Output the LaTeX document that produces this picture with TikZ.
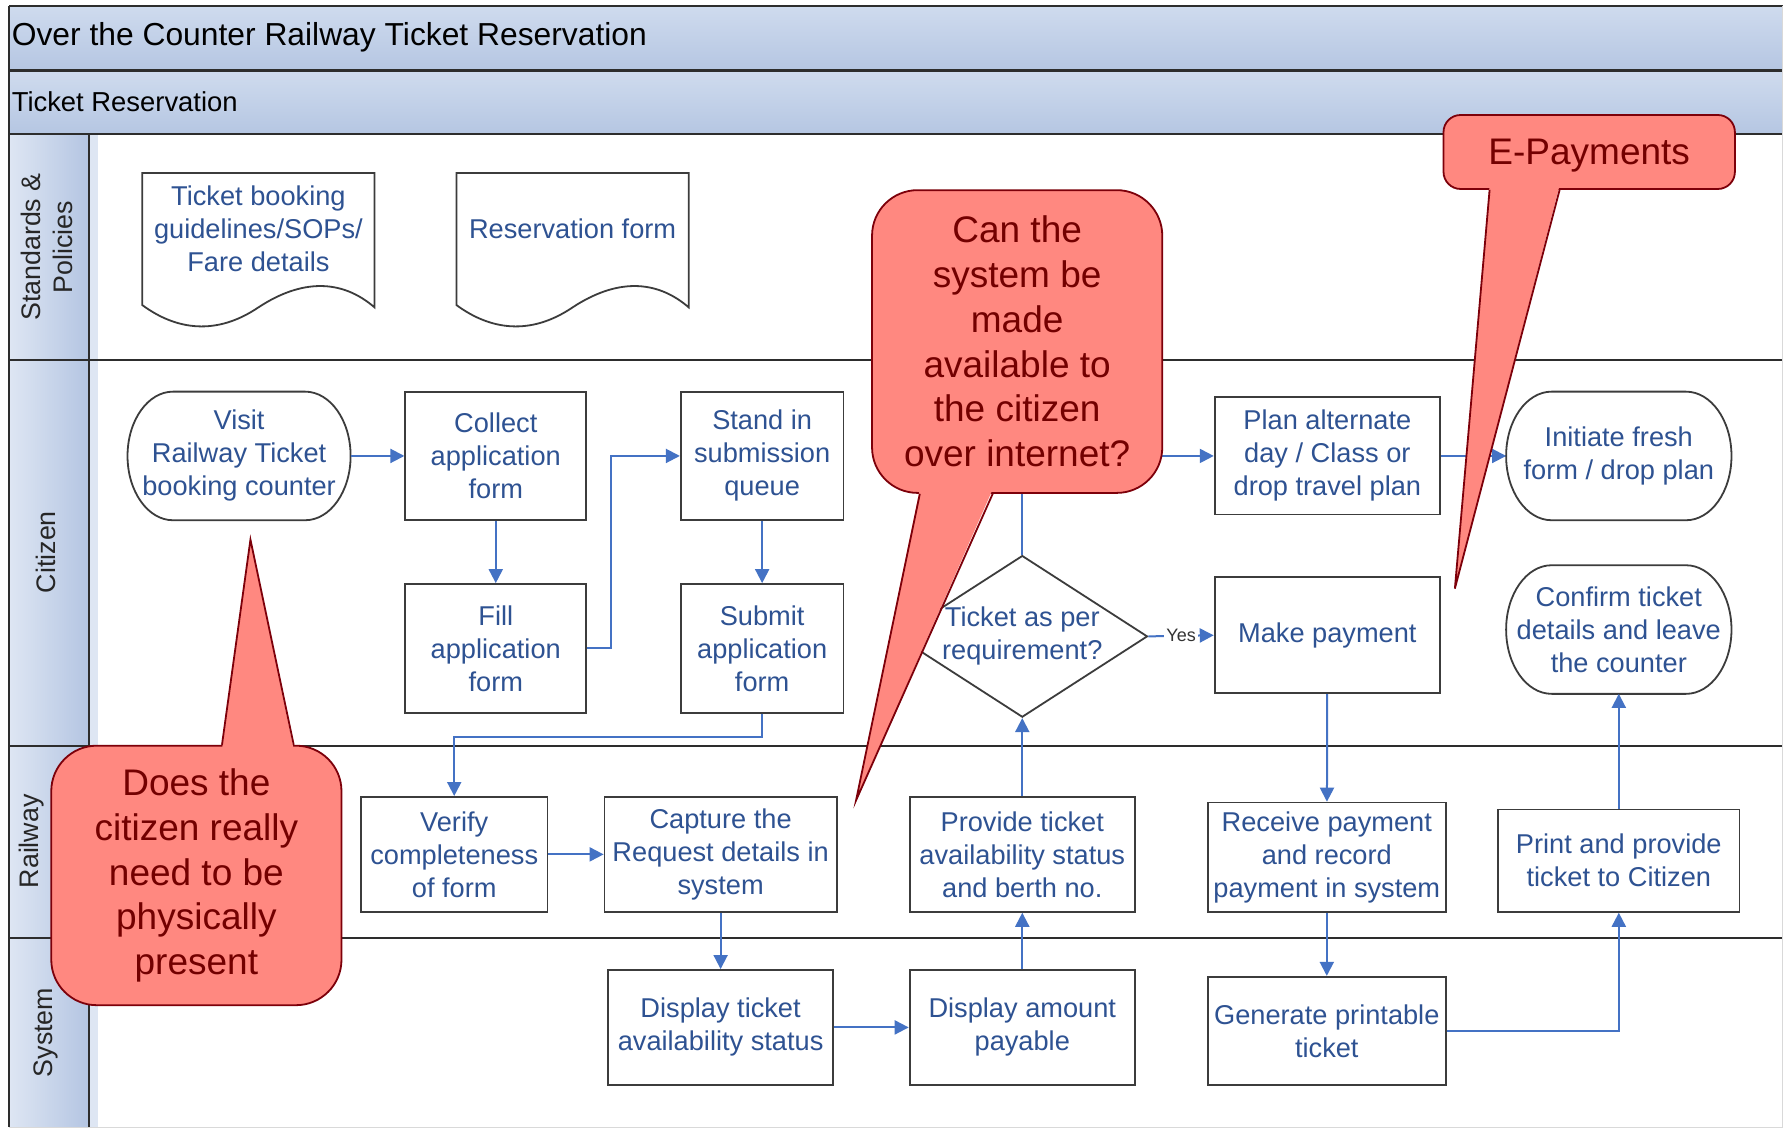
\documentclass[tikz,border=0pt]{standalone}
\usepackage{fontspec}
\setmainfont{Liberation Sans}
\usetikzlibrary{shapes.geometric,arrows.meta,calc}

\definecolor{bandtop}{RGB}{207,219,238}
\definecolor{bandbot}{RGB}{181,198,226}
\definecolor{lanecol}{RGB}{180,197,226}
\definecolor{laneedge}{RGB}{222,230,243}
\definecolor{gridline}{RGB}{45,45,45}
\definecolor{boxline}{RGB}{60,60,60}
\definecolor{boxtext}{RGB}{46,82,146}
\definecolor{flowblue}{RGB}{68,114,196}
\definecolor{callfill}{RGB}{255,136,128}
\definecolor{callline}{RGB}{125,0,10}
\definecolor{calltext}{RGB}{115,0,0}

\newcommand{\boxfont}{\fontsize{13.6}{16.5}\selectfont}
\newcommand{\callfont}{\fontsize{18.5}{22.4}\selectfont}
\newcommand{\lanefont}{\fontsize{13.4}{16}\selectfont}
\newcommand{\titlefont}{\fontsize{15.9}{19}\selectfont}
\newcommand{\phasefont}{\fontsize{13.7}{16}\selectfont}

% terminator outline round a named node
\newcommand{\termshape}[1]{%
  \draw[draw=boxline, line width=0.9pt]
    ([xshift=0.8cm]#1.north west) -- ([xshift=-0.8cm]#1.north east)
    arc[start angle=90, end angle=-90, x radius=0.8cm, y radius=1.13cm]
    -- ([xshift=0.8cm]#1.south west)
    arc[start angle=270, end angle=90, x radius=0.8cm, y radius=1.13cm] -- cycle;}

\tikzset{
  stepbox/.style={draw=boxline, line width=0.9pt, fill=white, align=center,
    text=boxtext, font=\boxfont, inner sep=2pt},
  termbox/.style={align=center, text=boxtext, font=\boxfont,
    minimum width=3.96cm, minimum height=2.26cm, outer sep=0pt},
  decision/.style={diamond, draw=boxline, line width=0.9pt, fill=white,
    minimum width=4.4cm, minimum height=2.84cm, inner sep=0pt},
  doctext/.style={align=center, text=boxtext, font=\boxfont},
  flow/.style={draw=flowblue, line width=1pt, -{Triangle[length=7pt,width=7pt]}},
  yeslabel/.style={fill=white, inner sep=1pt, text=black!80,
    font=\fontsize{9}{10}\selectfont},
  callout/.style={draw=callline, line width=0.9pt, fill=callfill,
    text=calltext, align=center, font=\callfont},
  lanelabel/.style={rotate=90, align=center, font=\lanefont, text=black!85},
}

\begin{document}
\begin{tikzpicture}[x=0.02cm, y=-0.02cm]
    \useasboundingbox (0,0) rectangle (1568,992);
    \fill[white] (0,0) rectangle (1568,992);

    % ==== POOL AND LANES ====
    \shade[top color=bandtop, bottom color=bandbot] (8,5) rectangle (1566,62);
    \shade[top color=bandtop, bottom color=bandbot] (8,62) rectangle (1566,118);
    \foreach \ya/\yb in {118/316, 316/655, 655/824, 824/990}
        \shade[left color=laneedge, right color=lanecol] (8,\ya) rectangle (78,\yb);
    \fill[laneedge] (78,118) rectangle (86,990);
    \foreach \y in {5,62,118,316,655,824}
        \draw[gridline, line width=1.1pt] (8,\y) -- (1566,\y);
    \draw[gridline, line width=1.1pt] (8,5) -- (8,990);
    \draw[gridline, line width=1.1pt] (78,118) -- (78,990);
    \draw[black!15] (1566,5) -- (1566,990) -- (8,990);

    \node[anchor=west, inner sep=0pt, font=\titlefont] (title) at (10,33) {Over the Counter Railway Ticket Reservation};
    \node[anchor=west, inner sep=0pt, font=\phasefont] (phase) at (10,89) {Ticket Reservation};

    \node[lanelabel] (lstd) at (41,217) {Standards \&\\Policies};
    \node[lanelabel] (lcit) at (40,485) {Citizen};
    \node[lanelabel] (lrail) at (28,739) {Railway};
    \node[lanelabel] (lsys) at (40,907) {System};

    % ==== STANDARDS & POLICIES ====
    \node[doctext] (guide) at (227,201) {Ticket booking\\guidelines/SOPs/\\Fare details};
    \node[doctext] (resform) at (503,201) {Reservation form};
    \foreach \d in {guide,resform}
        \draw[boxline, line width=0.9pt, shift={(\d.center)}]
            (-102,-49) -- (102,-49) -- (102,69) .. controls (73,44) and (38,44) .. (0,69)
            .. controls (-37,94) and (-72,89) .. (-102,67) -- cycle;

    % ==== CITIZEN ====
    \node[termbox, minimum width=3.92cm] (visit) at (210,400.5) {Visit\\Railway Ticket\\booking counter};
    \node[stepbox, minimum width=3.18cm, minimum height=2.26cm] (collect) at (435.5,400.5) {Collect\\application\\form};
    \node[stepbox, minimum width=3.18cm, minimum height=2.26cm] (fill) at (435.5,569.5) {Fill\\application\\form};
    \node[stepbox, minimum width=2.86cm, minimum height=2.26cm] (stand) at (669.5,400.5) {Stand in\\submission\\queue};
    \node[stepbox, minimum width=2.86cm, minimum height=2.26cm] (submit) at (669.5,569.5) {Submit\\application\\form};
    \node[decision] (dec) at (898,559) {};
    \node[doctext] (dectext) at (dec.center) {Ticket as per\\requirement?};
    \node[stepbox, minimum width=3.96cm, minimum height=2.06cm] (plan) at (1166,400.5) {Plan alternate\\day / Class or\\drop travel plan};
    \node[stepbox, minimum width=3.96cm, minimum height=2.04cm] (pay) at (1166,558) {Make payment};
    \node[termbox] (initiate) at (1422,400.5) {Initiate fresh\\form / drop plan};
    \node[termbox] (confirm) at (1422,553) {Confirm ticket\\details and leave\\the counter};
    \foreach \t in {visit,initiate,confirm}
        \termshape{\t};

    % ==== RAILWAY ====
    \node[stepbox, minimum width=3.28cm, minimum height=2.02cm] (verify) at (399,750.5) {Verify\\completeness\\of form};
    \node[stepbox, minimum width=4.08cm, minimum height=2.02cm] (capture) at (633,750.5) {Capture the\\Request details in\\system};
    \node[stepbox, minimum width=3.96cm, minimum height=2.02cm] (provide) at (898,750.5) {Provide ticket\\availability status\\and berth no.};
    \node[stepbox, minimum width=4.18cm, minimum height=1.92cm] (receive) at (1165.5,753) {Receive payment\\and record\\payment in system};
    \node[stepbox, minimum width=4.24cm, minimum height=1.80cm] (print) at (1422,756) {Print and provide\\ticket to Citizen};

    % ==== SYSTEM ====
    \node[stepbox, minimum width=3.96cm, minimum height=2.02cm] (disptick) at (633,902.5) {Display ticket\\availability status};
    \node[stepbox, minimum width=3.96cm, minimum height=2.02cm] (dispamt) at (898,902.5) {Display amount\\payable};
    \node[stepbox, minimum width=4.18cm, minimum height=1.90cm] (generate) at (1165.5,905.5) {Generate printable\\ticket};

    % ==== FLOW ====
    \draw[flow] (visit) -- (collect);
    \draw[flow] (collect) -- (fill);
    \draw[flow] (fill.east) -- ++(21,0) |- (stand.west);
    \draw[flow] (stand) -- (submit);
    \draw[flow] (submit.south) -- ++(0,21) -| (verify.north);
    \draw[flow] (verify) -- (capture);
    \draw[flow] (capture) -- (disptick);
    \draw[flow] (disptick) -- (dispamt);
    \draw[flow] (dispamt) -- (provide);
    \draw[flow] (provide) -- (dec.south);
    \draw[flow] (dec.north) |- (plan.west);
    \draw[flow] (dec.east) -- node[yeslabel] {Yes} (pay.west);
    \draw[flow] (plan) -- (initiate);
    \draw[flow] (pay) -- (receive);
    \draw[flow] (receive) -- (generate);
    \draw[flow] (generate.east) -| (print.south);
    \draw[flow] (print) -- (confirm);

    % ==== CALLOUTS ====
    \node[callout, minimum width=5.1cm, minimum height=4.56cm, rounded corners=0.8cm] (cphys) at (172.5,769)
        {Does the\\citizen really\\need to be\\physically\\present};
    \coordinate (cphystip) at (220,474);
    \fill[callfill] ($(cphys.north)+(22.5,4)$) -- (cphystip) -- ($(cphys.north)+(85.5,4)$) -- cycle;
    \draw[callline, line width=0.9pt] ($(cphys.north)+(22.5,0)$) -- (cphystip) -- ($(cphys.north)+(85.5,0)$);

    \node[callout, minimum width=5.1cm, minimum height=5.32cm, rounded corners=0.8cm] (cweb) at (893.5,300)
        {Can the\\system be\\made\\available to\\the citizen\\over internet?};
    \coordinate (cwebtip) at (752,703);
    \fill[callfill] ($(cweb.south)+(-85.5,-4)$) -- (cwebtip) -- ($(cweb.south)+(-21.5,-4)$) -- cycle;
    \draw[callline, line width=0.9pt] ($(cweb.south)+(-85.5,0)$) -- (cwebtip) -- ($(cweb.south)+(-21.5,0)$);

    \node[callout, minimum width=5.12cm, minimum height=1.3cm, rounded corners=0.3cm, text depth=0pt] (cpay) at (1396,133.5)
        {E-Payments};
    \coordinate (cpaytip) at (1278,517);
    \fill[callfill] ($(cpay.south)+(-87.5,-4)$) -- (cpaytip) -- ($(cpay.south)+(-26,-4)$) -- cycle;
    \draw[callline, line width=0.9pt] ($(cpay.south)+(-87.5,0)$) -- (cpaytip) -- ($(cpay.south)+(-26,0)$);
\end{tikzpicture}
\end{document}
